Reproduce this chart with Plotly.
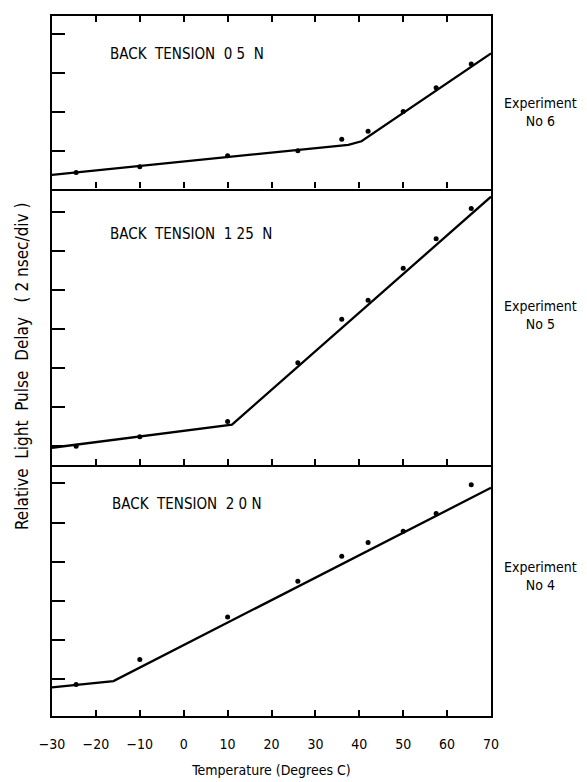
import plotly.graph_objects as go
from plotly.subplots import make_subplots

# ---- data (delay in divisions of 2 nsec) ----
temps = [-24.5, -10, 10, 26, 36, 42, 50, 57.5, 65.5]
exp6 = [0.44, 0.59, 0.87, 1.00, 1.29, 1.50, 2.00, 2.61, 3.22]
exp5 = [0.99, 1.23, 1.62, 3.13, 4.24, 4.73, 5.55, 6.30, 7.08]
exp4 = [0.86, 1.50, 2.59, 3.50, 4.14, 4.49, 4.78, 5.23, 5.97]

fit6_x = [-30, 37.5, 40.5, 70]
fit6_y = [0.38, 1.15, 1.24, 3.49]
fit5_x = [-30, 11, 70]
fit5_y = [0.95, 1.54, 7.38]
fit4_x = [-30, -16, 70]
fit4_y = [0.79, 0.95, 5.89]

x_ticks = [-30, -20, -10, 0, 10, 20, 30, 40, 50, 60, 70]
panel_labels = ["BACK&nbsp;&nbsp;TENSION&nbsp;&nbsp;0 5&nbsp;&nbsp;N",
                "BACK&nbsp;&nbsp;TENSION&nbsp;&nbsp;1 25&nbsp;&nbsp;N",
                "BACK&nbsp;&nbsp;TENSION&nbsp;&nbsp;2 0 N"]
exp_labels = ["Experiment<br>No 6", "Experiment<br>No 5", "Experiment<br>No 4"]
x_title = "Temperature (Degrees C)"
y_title = ("Relative&nbsp;&nbsp;Light&nbsp;&nbsp;Pulse&nbsp;&nbsp;Delay"
           "&nbsp;&nbsp;&nbsp;(&nbsp;2&nbsp;nsec/div&nbsp;)")

# page body has an 8px margin; compensate so the plot lands where the reference has it
OFF = 8
W, H = 587 - OFF, 782 - OFF
PL, PR, PT, PB = 52, 491, 14, 716          # plot area in page pixels
L, R, T, B = PL - OFF, OFF + W - PR, PT - OFF, OFF + H - PB
FONT = "DejaVu Sans Condensed, Liberation Sans Narrow, DejaVu Sans, sans-serif"

fig = make_subplots(rows=3, cols=1, shared_xaxes=True, vertical_spacing=0,
                    row_heights=[173, 277, 252])

series = [(exp6, fit6_x, fit6_y), (exp5, fit5_x, fit5_y), (exp4, fit4_x, fit4_y)]
for i, (pts, fx, fy) in enumerate(series, start=1):
    fig.add_trace(go.Scatter(x=fx, y=fy, mode="lines",
                             line=dict(color="black", width=2.3),
                             showlegend=False), row=i, col=1)
    fig.add_trace(go.Scatter(x=temps, y=pts, mode="markers",
                             marker=dict(color="black", size=5),
                             showlegend=False), row=i, col=1)

y_ranges = [[0.03, 4.45], [0.515, 7.59], [0.056, 6.48]]
y_tickvals = [[1, 2, 3, 4], [1, 2, 3, 4, 5, 6, 7], [1, 2, 3, 4, 5, 6]]
for i in range(3):
    fig.update_yaxes(range=y_ranges[i], tickvals=y_tickvals[i], showticklabels=False,
                     ticks="inside", ticklen=13, tickwidth=2.3, tickcolor="black",
                     showline=True, linecolor="black", linewidth=2.3, mirror=True,
                     showgrid=False, zeroline=False, row=i + 1, col=1)
    fig.update_xaxes(range=[-30, 70], tickvals=x_ticks,
                     ticks="inside", ticklen=6, tickwidth=2, tickcolor="black",
                     showline=True, linecolor="black", linewidth=2.3,
                     mirror=("ticks" if i == 0 else False),
                     showgrid=False, zeroline=False, row=i + 1, col=1)

fig.update_xaxes(showticklabels=True, tickfont=dict(family=FONT, size=14, color="black"),
                 ticklabelstandoff=14,
                 title=dict(text=x_title, font=dict(family=FONT, size=14, color="black"),
                            standoff=14),
                 row=3, col=1)


def px_x(px):
    return (px - PL) / (PR - PL)


def px_y(py):
    return 1 - (py - PT) / (PB - PT)


label_pos = [(108, 52), (108, 233), (110, 503)]
for (lx, ly), txt in zip(label_pos, panel_labels):
    fig.add_annotation(x=px_x(lx), y=px_y(ly), xref="paper", yref="paper",
                       text=txt, showarrow=False, xanchor="left", yanchor="middle",
                       font=dict(family=FONT, size=15, color="black"))

exp_pos = [(540, 110), (540, 314), (540, 576)]
for (ex, ey), txt in zip(exp_pos, exp_labels):
    fig.add_annotation(x=px_x(ex), y=px_y(ey), xref="paper", yref="paper",
                       text=txt, showarrow=False, xanchor="center", yanchor="middle",
                       font=dict(family=FONT, size=14, color="black"))

fig.add_annotation(x=px_x(22), y=px_y(366), xref="paper", yref="paper",
                   text=y_title, textangle=-90, showarrow=False,
                   xanchor="center", yanchor="middle",
                   font=dict(family=FONT, size=17, color="black"))

fig.update_layout(width=W, height=H, margin=dict(l=L, r=R, t=T, b=B),
                  paper_bgcolor="white", plot_bgcolor="white",
                  font=dict(family=FONT, color="black"))

fig.write_html("out.html")
